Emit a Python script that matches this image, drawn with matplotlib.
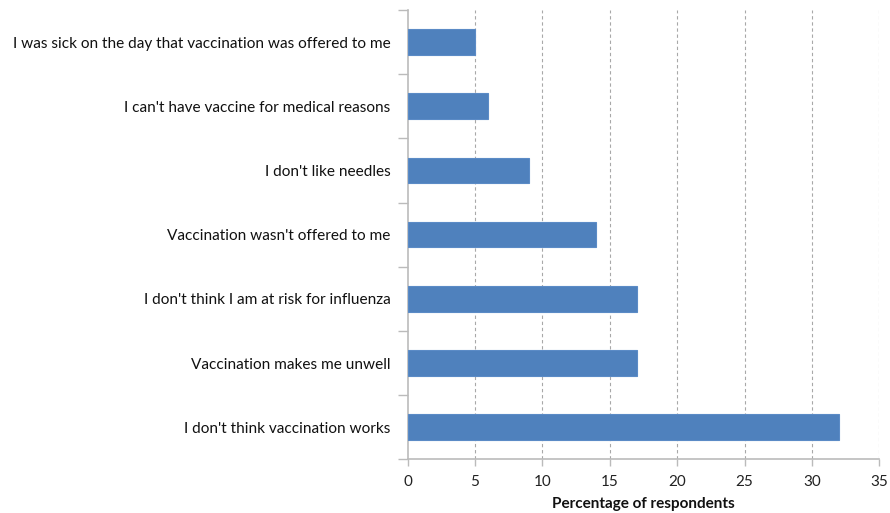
import matplotlib
matplotlib.use("Agg")
import matplotlib.pyplot as plt
import numpy as np

categories = [
    "I don't think vaccination works",
    "Vaccination makes me unwell",
    "I don't think I am at risk for influenza",
    "Vaccination wasn't offered to me",
    "I don't like needles",
    "I can't have vaccine for medical reasons",
    "I was sick on the day that vaccination was offered to me",
]
values = [32, 17, 17, 14, 9, 6, 5]
xticks = [0, 5, 10, 15, 20, 25, 30, 35]

plt.rcParams['font.family'] = ['Lato', 'DejaVu Sans']

fig = plt.figure(figsize=(8.9, 5.13), dpi=100)
ax = fig.add_axes([0.458, 0.1047, 0.988 - 0.458, 0.9805 - 0.1047])

y = np.arange(len(categories))
ax.barh(y, values, height=0.4, color='#4F81BD', edgecolor='#5B8BC6', linewidth=0.8, zorder=3)

ax.set_xlim(0, 35)
ax.set_ylim(-0.5, len(categories) - 0.5)

ax.set_xticks(xticks)
ax.set_xticklabels([str(t) for t in xticks], fontsize=11, color='#222222')
ax.tick_params(axis='x', direction='out', length=5, width=1, color='#BBBBBB', pad=6)

ax.set_yticks(np.arange(-0.5, len(categories), 1.0))
ax.set_yticklabels([])
ax.tick_params(axis='y', which='major', direction='out', length=7, width=1, color='#BBBBBB')
ax.set_yticks(y, minor=True)
ax.set_yticklabels(categories, minor=True, fontsize=11.1, color='#111111')
ax.tick_params(axis='y', which='minor', length=0, pad=12.5)

for t in xticks[1:]:
    ax.axvline(t, color='#A8A8A8', linestyle=(0, (3, 2.5)), linewidth=0.8, zorder=1)

for s in ['top', 'right']:
    ax.spines[s].set_visible(False)
for s in ['left', 'bottom']:
    ax.spines[s].set_color('#BBBBBB')
    ax.spines[s].set_linewidth(1.2)

ax.set_xlabel('Percentage of respondents', fontsize=11, fontweight='bold', color='#111111', labelpad=6)

fig.savefig('out.png', dpi=100)
